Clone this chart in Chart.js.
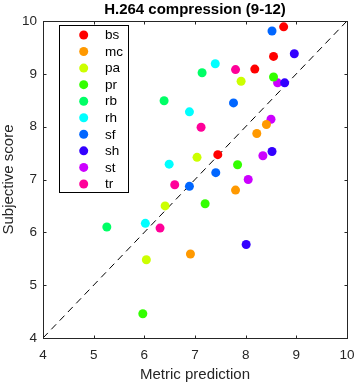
<!DOCTYPE html>
<html><head><meta charset="utf-8">
<script src="https://cdn.jsdelivr.net/npm/chart.js@4/dist/chart.umd.min.js"></script>
<style>html,body{margin:0;padding:0;background:#fff}#wrap{width:358px;height:385px;position:relative}</style>
</head><body><div id="wrap"><canvas id="c"></canvas></div>
<script>
const chartTitle = 'H.264 compression (9-12)';
const xLabel = 'Metric prediction';
const yLabel = 'Subjective score';
const axisTicks = [4, 5, 6, 7, 8, 9, 10];
const seriesNames = ['bs','mc','pa','pr','rb','rh','sf','sh','st','tr'];
const seriesColors = ['#ff0000','#ff9900','#ccff00','#33ff00','#00ff66','#00ffff','#0066ff','#3300ff','#cc00ff','#ff0099'];

const bsX = [8.75, 8.55, 8.18, 7.45];
const bsY = [9.89, 9.33, 9.09, 7.47];
const mcX = [8.41, 8.22, 7.80, 6.91];
const mcY = [8.04, 7.87, 6.80, 5.59];
const paX = [7.91, 7.04, 6.41, 6.04];
const paY = [8.86, 7.42, 6.50, 5.48];
const prX = [8.55, 7.84, 7.20, 5.97];
const prY = [8.94, 7.28, 6.54, 4.46];
const rbX = [7.14, 6.39, 5.26];
const rbY = [9.02, 8.49, 6.10];
const rhX = [7.40, 6.89, 6.49, 6.02];
const rhY = [9.19, 8.28, 7.29, 6.17];
const sfX = [8.52, 7.76, 7.41, 6.89];
const sfY = [9.81, 8.45, 7.13, 6.87];
const shX = [8.96, 8.77, 8.52, 8.01];
const shY = [9.38, 8.83, 7.53, 5.77];
const stX = [8.63, 8.50, 8.34, 8.05];
const stY = [8.83, 8.14, 7.45, 7.00];
const trX = [7.80, 7.12, 6.60, 6.31];
const trY = [9.08, 7.99, 6.90, 6.08];

const refLineX = [4, 10];
const refLineY = [4, 10];

const allX = [bsX, mcX, paX, prX, rbX, rhX, sfX, shX, stX, trX];
const allY = [bsY, mcY, paY, prY, rbY, rhY, sfY, shY, stY, trY];

const FONT = '"Liberation Sans", Arial, Helvetica, sans-serif';
const AXC = '#262626';

const datasets = seriesNames.map((n, i) => ({
  type: 'scatter',
  label: n,
  data: allX[i].map((x, k) => ({x: x, y: allY[i][k]})),
  backgroundColor: seriesColors[i],
  borderWidth: 0,
  pointRadius: 4.5,
  pointHoverRadius: 4.5,
  order: 1
}));
datasets.push({
  type: 'line',
  label: '_ref',
  data: refLineX.map((x, k) => ({x: x, y: refLineY[k]})),
  borderColor: '#000',
  borderWidth: 1,
  borderDash: [7, 5],
  pointRadius: 0,
  fill: false,
  order: 2
});

const decor = {
  id: 'decor',
  afterDraw(chart) {
    const ctx = chart.ctx, a = chart.chartArea;
    const xs = chart.scales.x, ys = chart.scales.y;
    ctx.save();
    ctx.strokeStyle = AXC;
    ctx.lineWidth = 1;
    const L = Math.round(a.left) + 0.5, R = Math.round(a.right) + 0.5;
    const T = Math.round(a.top) + 0.5, B = Math.round(a.bottom) + 0.5;
    ctx.strokeRect(L, T, R - L, B - T);
    const tl = 3;
    ctx.beginPath();
    axisTicks.forEach(v => {
      const px = Math.round(xs.getPixelForValue(v)) + 0.5;
      ctx.moveTo(px, B); ctx.lineTo(px, B - tl);
      ctx.moveTo(px, T); ctx.lineTo(px, T + tl);
      const py = Math.round(ys.getPixelForValue(v)) + 0.5;
      ctx.moveTo(L, py); ctx.lineTo(L + tl, py);
      ctx.moveTo(R, py); ctx.lineTo(R - tl, py);
    });
    ctx.stroke();

    // legend
    const lx = L + 16, ly = T + 4, lw = 69, rowH = 16.55;
    const lh = 167;
    ctx.fillStyle = '#fff';
    ctx.fillRect(lx, ly, lw, lh);
    ctx.strokeStyle = '#000';
    ctx.strokeRect(lx, ly, lw, lh);
    ctx.font = '13.5px ' + FONT;
    ctx.textBaseline = 'middle';
    ctx.textAlign = 'left';
    seriesNames.forEach((n, i) => {
      const cy = ly + 9.5 + i * rowH;
      ctx.beginPath();
      ctx.fillStyle = seriesColors[i];
      ctx.arc(lx + 24.2, cy, 4.5, 0, Math.PI * 2);
      ctx.fill();
      ctx.fillStyle = '#000';
      ctx.fillText(n, lx + 45.5, cy + 0.5);
    });
    ctx.restore();
  }
};

new Chart(document.getElementById('c'), {
  type: 'scatter',
  data: { datasets: datasets },
  options: {
    responsive: true,
    maintainAspectRatio: false,
    animation: false,
    layout: { padding: { left: 0, right: 11, top: 0, bottom: 0 } },
    plugins: {
      legend: { display: false },
      tooltip: { enabled: false },
      title: {
        display: true,
        fullSize: false,
        text: chartTitle,
        color: '#000',
        font: { family: FONT, size: 15, weight: 'bold' },
        padding: { top: 1, bottom: 2 }
      }
    },
    scales: {
      x: {
        type: 'linear', min: 4, max: 10,
        afterBuildTicks(s) { s.ticks = axisTicks.map(v => ({value: v})); },
        afterFit(s) { s.height = 47; s.paddingLeft = 0; s.paddingRight = 0; },
        grid: { display: false, drawTicks: false },
        border: { display: false },
        ticks: { color: AXC, font: { family: FONT, size: 13.5 }, padding: 9, maxRotation: 0 },
        title: { display: true, text: xLabel, color: AXC, font: { family: FONT, size: 15 }, padding: { top: 2, bottom: 1 } }
      },
      y: {
        type: 'linear', min: 4, max: 10,
        afterBuildTicks(s) { s.ticks = axisTicks.map(v => ({value: v})); },
        afterFit(s) { s.width = 43; s.paddingTop = 0; s.paddingBottom = 0; },
        grid: { display: false, drawTicks: false },
        border: { display: false },
        ticks: { color: AXC, font: { family: FONT, size: 13.5 }, padding: 6 },
        title: { display: true, text: yLabel, color: AXC, font: { family: FONT, size: 15 }, padding: { top: 0, bottom: 0 } }
      }
    }
  },
  plugins: [decor]
});
</script>
</body></html>
